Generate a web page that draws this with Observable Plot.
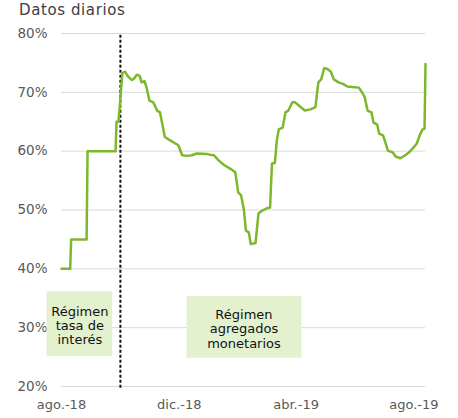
<!DOCTYPE html>
<html>
<head>
<meta charset="utf-8">
<script src="https://cdn.jsdelivr.net/npm/d3@7"></script>
<script src="https://cdn.jsdelivr.net/npm/@observablehq/plot@0.6"></script>
<style>
  body { margin: 0; background: #fff; }
  #title { height: 24px; line-height: 20px; padding-left: 19px; font-family: "DejaVu Sans", sans-serif; font-size: 15px; letter-spacing: 0.6px; color: #404040; }
</style>
</head>
<body>
<div id="title">Datos diarios</div>
<div id="chart"></div>
<script>
const fechas = ["2018-08-01","2018-08-10","2018-08-11","2018-08-27","2018-08-28","2018-09-26","2018-09-27","2018-09-29","2018-10-01","2018-10-03","2018-10-04","2018-10-06","2018-10-08","2018-10-10","2018-10-13","2018-10-15","2018-10-18","2018-10-21","2018-10-23","2018-10-26","2018-10-28","2018-10-31","2018-11-04","2018-11-08","2018-11-11","2018-11-14","2018-11-16","2018-11-22","2018-11-30","2018-12-04","2018-12-09","2018-12-14","2018-12-19","2018-12-30","2019-01-02","2019-01-06","2019-01-11","2019-01-16","2019-01-23","2019-01-28","2019-01-31","2019-02-03","2019-02-06","2019-02-08","2019-02-11","2019-02-13","2019-02-18","2019-02-21","2019-02-25","2019-03-02","2019-03-05","2019-03-07","2019-03-10","2019-03-12","2019-03-14","2019-03-18","2019-03-21","2019-03-24","2019-03-28","2019-03-31","2019-04-05","2019-04-10","2019-04-16","2019-04-21","2019-04-24","2019-04-27","2019-04-30","2019-05-03","2019-05-07","2019-05-10","2019-05-15","2019-05-20","2019-05-24","2019-05-29","2019-06-05","2019-06-09","2019-06-11","2019-06-14","2019-06-18","2019-06-20","2019-06-24","2019-06-26","2019-06-30","2019-07-03","2019-07-05","2019-07-10","2019-07-13","2019-07-18","2019-07-23","2019-07-27","2019-08-01","2019-08-04","2019-08-07","2019-08-10","2019-08-12","2019-08-13"];
const valores = [40.0,40.0,45.0,45.0,60.0,60.0,65.0,65.0,69.0,73.2,73.4,73.5,72.9,72.5,72.1,72.3,73.0,72.8,71.7,71.9,70.9,68.6,68.3,66.9,66.6,64.1,62.4,61.8,61.0,59.3,59.2,59.3,59.6,59.5,59.4,59.3,58.4,57.7,57.0,56.4,53.0,52.5,49.9,46.5,46.2,44.2,44.4,49.4,49.9,50.3,50.4,57.9,58.0,61.8,63.7,64.0,66.6,66.9,68.3,68.3,67.6,66.9,67.1,67.5,71.7,72.2,74.1,74.0,73.5,72.2,71.7,71.4,71.0,70.9,70.8,69.8,69.2,66.9,66.6,64.9,64.5,63.0,62.7,61.2,60.1,59.8,59.1,58.8,59.3,59.8,60.7,61.3,62.7,63.7,63.8,74.8];

const tickFechas = ["2018-08-01","2018-12-01","2019-04-01","2019-08-01"];
const tickEtiquetas = ["ago.-18","dic.-18","abr.-19","ago.-19"];
const yTicks = [20,30,40,50,60,70,80];
const dominioX = ["2018-08-01","2019-08-13"];

const cambioRegimen = "2018-10-01";

const cajaX1 = ["2018-07-17","2018-12-09"];
const cajaX2 = ["2018-09-23","2019-04-07"];
const cajaY1 = [25.1,24.8];
const cajaY2 = [36.1,35.3];
const textoX = ["2018-08-20","2019-02-06"];
const textoY = [30.4,29.8];
const textos = ["Régimen\ntasa de\ninterés","Régimen\nagregados\nmonetarios"];

const P = (s) => new Date(s);
const serie = fechas.map((f,i) => ({fecha: P(f), valor: valores[i]}));
const cajas = cajaX1.map((d,i) => ({x1: P(d), x2: P(cajaX2[i]), y1: cajaY1[i], y2: cajaY2[i], tx: P(textoX[i]), ty: textoY[i], t: textos[i]}));
const fmtX = (d) => tickEtiquetas[tickFechas.findIndex(t => +P(t) === +d)];

const chart = Plot.plot({
  width: 458,
  height: 394,
  marginLeft: 61,
  marginRight: 33,
  marginTop: 9,
  marginBottom: 32,
  style: {fontFamily: "DejaVu Sans, sans-serif", fontSize: "13px", background: "#fff"},
  x: {type: "utc", domain: dominioX.map(P), label: null},
  y: {domain: [20, 80], label: null},
  marks: [
    Plot.gridY(yTicks, {stroke: "#d9d9d9", strokeOpacity: 1, strokeWidth: 1}),
    Plot.axisX({ticks: tickFechas.map(P), tickFormat: fmtX, tickSize: 0, tickPadding: 13, fill: "#595959", fontSize: 13, style: "letter-spacing:0.8px"}),
    Plot.axisY({ticks: yTicks, tickFormat: (d) => d + "%", tickSize: 0, tickPadding: 14, fill: "#595959", fontSize: 13.5, style: "letter-spacing:0.8px"}),
    Plot.rect(cajas, {x1: "x1", x2: "x2", y1: "y1", y2: "y2", fill: "#e3f1cf", clip: false}),
    Plot.ruleX([P(cambioRegimen)], {y1: 19.7, y2: 80, stroke: "#111", strokeWidth: 2, strokeDasharray: "3,2"}),
    Plot.line(serie, {x: "fecha", y: "valor", stroke: "#7db82c", strokeWidth: 2.5, curve: "linear"}),
    Plot.text(cajas, {x: "tx", y: "ty", text: "t", fill: "#111", fontSize: 13, lineHeight: 1.1, style: "letter-spacing:0.5px; paint-order:stroke; stroke:#111; stroke-width:0.25px"})
  ]
});
document.getElementById("chart").appendChild(chart);
</script>
</body>
</html>
